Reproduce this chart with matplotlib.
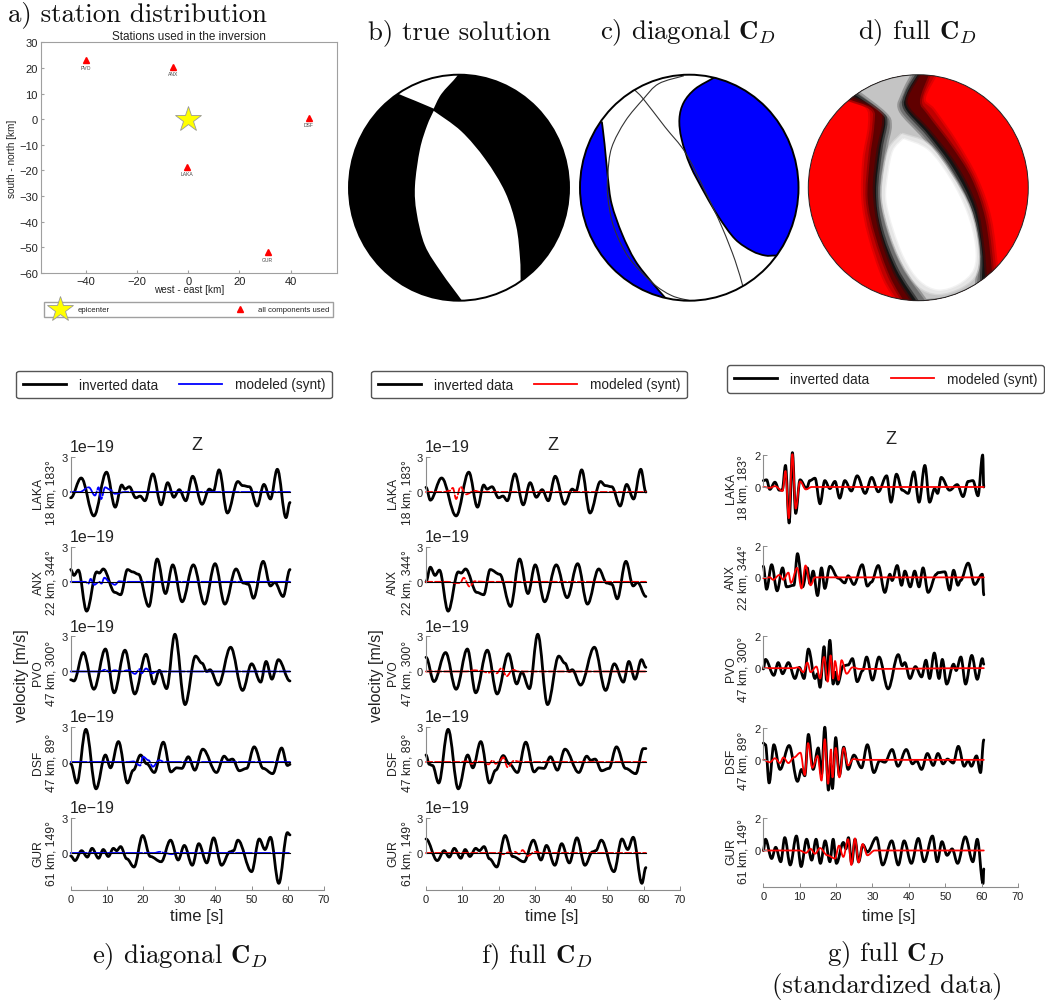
import matplotlib
matplotlib.use('Agg')
import matplotlib.pyplot as plt
from matplotlib.lines import Line2D
from matplotlib.patches import Circle, PathPatch
from matplotlib.path import Path

plt.rcParams['font.family'] = ['Liberation Sans', 'DejaVu Sans']
plt.rcParams['mathtext.fontset'] = 'cm'

W, H = 1045, 1003
GRAY = '#8c8c8c'
TXT = '#222222'

#Station map
map_names = ['PVO', 'ANX', 'LAKA', 'DSF', 'GUR']
map_x = [-40, -5.8, -0.7, 47, 31]
map_y = [23, 20.5, -18.5, 0.5, -52]
epi_x = [0]
epi_y = [0]
map_xticks = [-40, -20, 0, 20, 40]
map_yticks = [-60, -50, -40, -30, -20, -10, 0, 10, 20, 30]

station_names = ['LAKA', 'ANX', 'PVO', 'DSF', 'GUR']
station_info = ['18 km, 183°', '22 km, 344°', '47 km, 300°', '47 km, 89°', '61 km, 149°']
time_ticks = [0, 10, 20, 30, 40, 50, 60, 70]

#Panel e, inverted data
e_laka_t = [0, 2.9, 6.4, 9.9, 12.3, 14.1, 15, 16.2, 18, 19.2, 20.5, 22.7, 25, 26.8, 28.5, 30, 31.8, 33.7, 36.3, 38.3, 39.4, 41, 43.3, 46.2, 47.5, 49.4, 51.5, 53.4, 55.2, 57.1, 59.5, 60.6]
e_laka_v = [-0.5, 1.2, -2.05, 1.7, -1.3, 0.6, 0.25, 0.45, -0.5, -0.35, -0.75, 1.55, -1.1, 0.8, -0.45, 0.2, -0.75, 1.35, -1.05, 0.25, 0.05, 1.9, -1.8, 0.9, 0.55, 0.45, -1.2, 0.65, -0.6, 1.95, -2.2, -0.9]
e_anx_t = [0, 0.9, 2.1, 4.4, 7.2, 7.9, 9, 12.2, 13.8, 15.7, 17.1, 18.7, 21.6, 23.9, 26.2, 28.2, 30.8, 33.9, 37, 39.9, 42.6, 45.7, 47.7, 49.1, 50.5, 53.2, 55.2, 56.4, 58.7, 60.6]
e_anx_v = [1.05, 0.55, 1.0, -2.5, 0.85, 0.75, 1.1, -0.9, -1.1, 1.05, 0.85, 0.65, -2.1, 1.95, -1, 1.45, -1.7, 1.45, -1.9, 1.55, -1.9, 1.1, -0.1, -0.2, -1.4, 1.75, -0.35, -0.05, -1.25, 1.05]
e_pvo_t = [0, 0.9, 3.5, 6.4, 9.6, 12, 15, 17.7, 20.8, 23, 24.5, 26.5, 28.8, 31.6, 34.5, 36.3, 37.6, 38.5, 40.8, 44.2, 47.5, 50, 52.5, 54, 55.6, 57.4, 60.6]
e_pvo_v = [-0.7, -0.8, 1.6, -1.5, 1.9, -1.8, 1.8, -1.9, 1.45, -1.05, 0.1, -1.45, 3.15, -2.8, 1.3, 0.7, 0, 0.15, -1.15, 2.05, -1.6, 0.65, -0.9, 0.85, -0.65, 1.0, -0.8]
e_dsf_t = [0, 1.7, 4.2, 7, 9.6, 11, 13.2, 15.7, 17.3, 19.3, 21, 23.1, 25.6, 27.7, 29.3, 30.7, 32.5, 34.3, 36.5, 40.3, 42.4, 43.6, 44.7, 46.6, 48.6, 50.7, 53.2, 55.8, 58.3, 59.9, 60.6]
e_dsf_v = [-0.15, -1.8, 2.8, -2.3, 0.6, -0.5, 1.75, -1.8, -0.7, 0.6, -0.15, -0.9, 1.7, -0.85, -0.5, -0.55, 0.45, -0.7, 1.1, -0.9, 0.5, 0.15, 0.25, -0.75, -0.55, 1.3, -0.55, -1, 1.2, -0.3, -0.2]
e_gur_t = [0, 1.2, 3, 4.6, 5.9, 7.7, 9, 10.4, 11.8, 12.7, 13.8, 15.5, 17.5, 19.9, 22, 25, 27.6, 29.7, 31.4, 33.6, 35.4, 37.6, 39.5, 41.7, 44, 45, 46.2, 50, 52.1, 53.7, 55.2, 57.5, 59.9, 60.6]
e_gur_v = [-0.25, -0.65, 0.2, -0.35, 0.4, -0.45, 0.3, -0.3, 0.4, 0.2, 0.55, -0.5, -1.2, 1.5, -0.3, -0.75, 1.1, -0.6, 0.65, -1.05, 0.8, -0.85, 1.3, -1.05, 0.1, 0.2, 1.1, -1.6, 1.2, 0.3, 1.35, -2.6, 1.75, 1.55]

#Panel e, modeled
em_laka_t = [0, 2.5, 5, 6.7, 7.7, 8.4, 9.5, 10.9, 12.2, 15, 60.6]
em_laka_v = [0, 0, 0.4, -0.3, 0.4, -0.6, 0.4, 0.2, -0.15, 0, 0]
em_anx_t = [0, 4, 4.9, 5.5, 6.5, 7.9, 8.5, 9.3, 10.9, 12.2, 13.4, 15, 60.6]
em_anx_v = [0, 0, -0.15, 0.25, -0.25, 0, -0.15, 0.35, -0.05, -0.25, 0.05, 0, 0]
em_pvo_t = [0, 8, 9.6, 10.7, 12.2, 13.6, 16, 17.8, 19, 19.6, 20.8, 22.4, 23.8, 60.6]
em_pvo_v = [0, 0, 0.15, -0.05, 0.1, 0, 0.1, -0.2, 0.2, -0.15, 0.25, -0.15, 0, 0]
em_dsf_t = [0, 16, 17.3, 19.2, 20, 21.5, 22.7, 24.4, 26, 60.6]
em_dsf_v = [0, 0, 0.05, -0.3, 0.45, 0.15, -0.4, 0.15, 0, 0]
em_gur_t = [0, 23, 24.7, 26, 27.9, 29.3, 60.6]
em_gur_v = [0, 0, 0.1, 0, -0.1, 0, 0]

#Panel f, inverted data
f_laka_t = [0, 1.2, 4.3, 8.3, 11.8, 14.2, 15.9, 16.8, 18.2, 20, 21.2, 22.4, 24.5, 26.8, 28.7, 30.4, 32, 33.7, 35.6, 38.2, 40.3, 41.3, 42.9, 45.2, 48.1, 49.4, 51.2, 53.5, 55.3, 57.2, 59.2, 60.6]
f_laka_v = [0.4, -0.7, 1.2, -2.05, 1.7, -1.3, 0.6, 0.25, 0.45, -0.5, -0.35, -0.75, 1.55, -1.1, 0.8, -0.45, 0.2, -0.75, 1.35, -1.05, 0.25, 0.05, 1.9, -1.8, 0.9, 0.55, 0.45, -1.2, 0.65, -0.6, 1.95, 0]
f_anx_t = [0, 1.2, 2.5, 3.7, 6.1, 8.9, 9.7, 10.9, 14, 15.9, 17.7, 20.3, 23.3, 25.8, 28.1, 30.1, 32.7, 35.9, 38.9, 41.8, 44.5, 47.6, 49.8, 51.2, 52.7, 55.1, 57.1, 58.3, 60.6]
f_anx_v = [0, 1.25, 0.55, 1, -2.5, 0.85, 0.75, 1.1, -0.9, -1.1, 1.05, 0.65, -2.1, 1.95, -1, 1.45, -1.7, 1.45, -1.35, 1.55, -1.9, 1.1, -0.1, -0.2, -1.45, 1.75, -0.35, -0.05, -1.25]
f_pvo_t = [0, 2.2, 5.4, 8.3, 11.4, 13.7, 16.9, 19.6, 22.7, 25, 26.4, 28.5, 30.8, 33.5, 36.6, 38.3, 39.5, 40.3, 42.6, 46.4, 49.5, 51.9, 54.4, 55.9, 57.6, 59.4, 60.6]
f_pvo_v = [1.2, -0.85, 1.6, -1.5, 1.9, -1.8, 1.8, -1.9, 1.5, -1.05, -0.05, -1.45, 3.15, -2.8, 1.3, 0.7, 0, 0.15, -1.15, 2.05, -1.6, 0.65, -0.9, 0.85, -0.65, 1.0, 0.35]
f_dsf_t = [0, 0.9, 1.8, 3.5, 6.1, 8.9, 11.5, 12.9, 15.1, 17.5, 19.2, 21.3, 22.9, 25.2, 27.5, 29.8, 31.1, 32.5, 34.3, 36.2, 38.3, 42.1, 44.3, 45.4, 46.6, 48.4, 50.4, 52.5, 55, 57.8, 59.9, 60.6]
f_dsf_v = [0.6, -0.2, -0.3, -1.8, 2.8, -2.3, 0.6, -0.5, 1.75, -1.8, -0.7, 0.55, -0.15, -0.9, 1.7, -0.85, -0.5, -0.55, 0.45, -0.7, 1.1, -0.9, 0.5, 0.15, 0.25, -0.75, -0.55, 1.3, -0.55, -1, 1.15, 1.15]
f_gur_t = [0, 3.1, 5, 6.4, 7.8, 9.6, 10.8, 12.1, 13.7, 14.7, 16, 17.5, 19.5, 21.8, 23.9, 27, 29.6, 31.7, 33.2, 35.5, 37.4, 39.5, 41.6, 43.8, 45.9, 46.8, 48.3, 51.8, 54, 55.6, 57.1, 59.5, 60.6]
f_gur_v = [1.2, -0.65, 0.2, -0.35, 0.4, -0.45, 0.3, -0.3, 0.4, 0.2, 0.55, -0.5, -1.2, 1.5, -0.3, -0.75, 1.1, -0.6, 0.65, -1.05, 0.8, -0.85, 1.3, -1.05, 0.1, 0.2, 1.1, -1.6, 1.2, 0.3, 1.35, -2.6, -1.25]

#Panel f, modeled
fm_laka_t = [0, 5, 6.5, 7.4, 8.3, 9.5, 11, 13.4, 15, 60.6]
fm_laka_v = [0, 0, 0.1, 0.35, -0.6, 0.45, -0.2, 0.1, 0, 0]
fm_anx_t = [0, 6, 8.3, 9.4, 10.4, 12, 13.4, 16, 60.6]
fm_anx_v = [0, 0, -0.1, -0.1, 0.35, -0.4, 0.05, 0, 0]
fm_pvo_t = [0, 11, 13.5, 15, 17.2, 18.5, 19.5, 20.8, 22.2, 23.9, 25.4, 60.6]
fm_pvo_v = [0, 0, 0.1, 0.05, -0.1, 0.05, -0.15, 0.3, -0.4, 0.15, 0, 0]
fm_dsf_t = [0, 9.5, 11.2, 12.6, 13.5, 15.7, 17.2, 18.4, 19.2, 20.2, 21.3, 22.5, 24.2, 26.4, 60.6]
fm_dsf_v = [0, 0, 0.05, -0.15, 0.05, 0, -0.2, 0.15, -0.15, 0.05, 0.4, -0.45, 0.1, 0, 0]
fm_gur_t = [0, 20.4, 21.3, 22.7, 23.6, 24.5, 25.7, 26.6, 28, 30, 31.9, 60.6]
fm_gur_v = [0, 0, -0.1, 0.05, -0.05, 0.1, -0.1, 0.25, -0.25, 0.1, 0, 0]

#Panel g, inverted data
g_laka_t = [0, 0.9, 1.8, 3.2, 4.4, 5.2, 6.1, 7.1, 8, 8.9, 10.1, 11.9, 12.8, 14.2, 15.6, 16.9, 18.3, 19.7, 21, 22.4, 24.2, 25.8, 28, 29.8, 31.6, 33.9, 35.1, 36.6, 38.2, 39.8, 41.4, 42.8, 44.4, 45.7, 47.1, 47.9, 48.9, 51.2, 53.3, 54.9, 56.3, 57.6, 59, 60.3, 60.6]
g_laka_v = [0.4, 0.45, -0.15, 0.3, -0.2, -0.2, 1.35, -2.25, 2.15, -1.65, 0.45, -0.1, 0.4, 0.55, -1.05, 0.4, -0.1, 0.35, -0.7, 0.4, -0.25, 0.7, -0.4, 0.6, -0.3, 0.7, -0.95, 0.8, -0.2, -0.4, 0.95, -0.95, 1.35, -0.95, -0.1, -0.4, 0.6, -0.2, 0.15, -0.6, 0.35, 0.4, -0.55, 2, 0]
g_anx_t = [0, 0.9, 2.3, 3.8, 5.3, 6.4, 8.4, 9.4, 10.8, 12.1, 12.8, 13.7, 14.9, 16, 16.9, 18.3, 20.6, 22.4, 23.3, 24.9, 27.2, 28.6, 29.7, 31.6, 33.4, 34.8, 35.4, 36.8, 38, 38.9, 40.4, 41.6, 42.8, 43.9, 45.3, 47.6, 48, 49.9, 51.2, 52.3, 53.5, 54.2, 56.3, 58.1, 60.2, 60.6]
g_anx_v = [0.7, -0.75, 0.8, -0.85, 0.6, -0.6, -0.5, 1.5, -0.6, 0.6, -0.4, 0.4, -1.15, 0.6, -0.7, 0.7, -0.05, -0.35, 0.1, -0.45, 0.8, -0.55, -0.3, 0.75, -0.95, 0.2, -0.2, 0.75, -0.5, 0.4, -0.6, 0.4, -0.6, 0.6, -0.95, 0.2, 0.3, 0.35, -0.8, 0.45, -0.5, -0.2, 0.9, -0.45, 0.2, -1.1]
g_pvo_t = [0, 0.6, 2.9, 4.1, 5.3, 6.9, 8.7, 9.9, 11.2, 12.4, 14.2, 14.9, 15.6, 16.7, 17.4, 18.3, 19.2, 19.7, 20.4, 22, 23.3, 24.5, 25.8, 27.3, 28.4, 30, 31.8, 34.3, 37.1, 38.2, 38.9, 40.3, 41.8, 43.5, 44.7, 45.7, 47, 48.3, 49.2, 50.4, 52.3, 53, 54.3, 55.6, 57.3, 58.8, 60.2, 60.6]
g_pvo_v = [-0.05, 0.55, -0.45, 0.35, -0.35, 0.35, -0.65, 0.05, -0.65, 1.2, -0.65, -0.35, -1.2, 1.35, -0.75, 1.75, -1, -0.25, -1, 0.15, 0.2, 0.6, -0.85, -0.15, 0.7, -0.75, 0.7, -1.3, 0.85, 0.15, 0.35, -0.65, 0.1, -0.55, 0.5, -0.65, 0.95, -0.65, 0.55, -1, 0.25, -0.15, 0.7, -1, 0.8, -0.7, 0.6, 0.25]
g_dsf_t = [0, 0.6, 1.6, 2.9, 4.6, 7.1, 9.4, 10.5, 11.4, 12.4, 13.7, 15.1, 16, 16.9, 17.9, 18.5, 19, 19.9, 20.9, 22.1, 23.3, 24.9, 27, 28.6, 30.4, 32, 33.4, 35.4, 37, 39.3, 41, 42.1, 43.5, 45.1, 46.7, 48, 49.4, 50.6, 52.2, 53.6, 55.2, 56.3, 57.2, 58.6, 59.7, 60.6]
g_dsf_v = [1.05, 0.95, -1.45, 0.95, -0.6, 0.9, -1.35, -0.6, -1, 1.6, -0.6, 0.75, -0.9, 2.05, -1.9, -0.25, -1.8, 1.4, -1, 0.8, -0.6, 0.3, -0.5, 0.95, -0.8, -0.05, -0.15, 0.65, -0.4, 0.65, -0.25, -0.05, -0.6, 0.4, -0.35, 0.4, -0.25, 0.05, -0.2, 0.85, -0.4, -0.05, -0.4, 0.25, -0.8, 1.25]
g_gur_t = [0, 0.6, 2.3, 3.4, 4.8, 5.9, 7.4, 9.1, 10.4, 11.9, 13.3, 14.5, 15.7, 17, 18.3, 19.2, 20.1, 22, 22.7, 23.4, 24.3, 25.2, 26.2, 27.4, 28.6, 31.1, 32.8, 35.3, 37.1, 38.7, 40.7, 42.6, 44.2, 46.5, 47.8, 49.1, 50.5, 51.9, 53.4, 55.5, 57.6, 58.8, 60.4, 60.6]
g_gur_v = [0, 0.7, -0.5, 0.2, -0.7, 0.8, -0.9, 0.9, -1, 0.7, -0.6, 0.7, -0.8, 0.6, -0.7, 0.7, -0.8, 0.5, 0.1, 0.8, -0.8, 0.7, -0.7, 0.35, -0.1, 0.8, -0.9, 0.6, -0.9, 0.6, -0.8, 0.75, -0.7, 0.9, -0.7, 0.55, -0.3, 0.1, -0.8, 0.85, -0.7, 0.7, -2.05, -1.15]

#Panel g, modeled
gm_laka_t = [0, 1.8, 3.2, 5.3, 6.1, 7, 8, 8.9, 10.1, 11.7, 13.3, 60.6]
gm_laka_v = [0, -0.05, 0.05, -0.25, 1, -1.95, 2.05, -1.35, 0.35, -0.15, 0, 0]
gm_anx_t = [0, 1.8, 2.7, 4.4, 5.5, 6.9, 7.6, 9.3, 10.5, 11.6, 13, 14.2, 60.6]
gm_anx_v = [-0.05, 0, -0.15, 0.15, -0.15, 0.3, -0.35, 0.6, -0.7, 0.75, -0.5, 0, 0]
gm_pvo_t = [0, 8.2, 9.6, 11, 12.1, 13, 14.6, 15.6, 16.7, 17.7, 18.5, 19.2, 19.7, 20.7, 21.5, 22.9, 24.5, 26.5, 60.6]
gm_pvo_v = [0, 0, 0.05, -0.25, 0.35, -0.25, 0.1, -0.65, 0.7, -0.85, 0.8, -0.65, 0.45, -0.75, 0.5, -0.35, 0.05, -0.05, 0]
gm_dsf_t = [0, 1.8, 3.2, 4.6, 5.5, 6.9, 8.4, 10.2, 11.4, 12.3, 13.5, 14.9, 16, 16.9, 17.8, 18.6, 19, 19.9, 20.9, 22.1, 23.3, 24.7, 26.5, 60.6]
gm_dsf_v = [0, -0.15, 0.1, -0.2, 0.15, -0.2, 0.15, 0.45, -0.95, 1.05, -0.5, 0.25, -1.3, 1.3, -1.5, 0.65, -1.1, 0.75, -1.1, 0.75, -0.35, 0.05, 0, 0]
gm_gur_t = [0, 10, 11.7, 13, 14.2, 15.6, 17.6, 19.7, 20.8, 22, 23.3, 24.2, 25.2, 26.2, 27.3, 28.6, 30.6, 60.6]
gm_gur_v = [0, 0, -0.15, 0.1, -0.2, 0.15, -0.3, -0.5, 0.3, -0.4, 0.7, -0.9, 0.75, -0.75, 0.4, -0.3, 0, 0]

#Beach ball outlines in unit circle coordinates, ends run past the rim
b_top_right = [(-.62, .87), (-.55, .83), (-.40, .77), (-.23, .70)]
b_top_left = [(-.23, .70), (-.16, .83), (-.02, .985), (.03, 1.08)]
b_big_right = [(-.23, .68), (.02, .50), (.24, .25), (.42, -.04), (.52, -.34), (.555, -.63), (.56, -.81), (.565, -1.05)]
b_big_left = [(.08, -1.08), (.02, -.99), (-.16, -.75), (-.31, -.51), (-.385, -.22), (-.40, .02), (-.355, .34), (-.29, .55), (-.23, .68)]

c_right = [(.30, 1.02), (.22, .97), (.055, .875), (-.05, .755), (-.09, .61), (-.07, .43), (.01, .195), (.145, -.055), (.27, -.26), (.42, -.455), (.575, -.56), (.695, -.60), (.80, -.60), (1.05, -.60)]
c_left = [(-.80, .585), (-.775, .385), (-.745, .09), (-.71, -.145), (-.615, -.41), (-.495, -.645), (-.34, -.84), (-.215, -.98), (-.15, -1.06)]
c_arc1 = [(-.05, .99), (-.28, .92), (-.42, .785), (-.585, .59), (-.71, .355), (-.745, .12), (-.745, -.085), (-.69, -.35), (-.555, -.615), (-.34, -.84), (-.16, -.955), (.01, -1)]
c_arc2 = [(-.5, .865), (-.42, .785), (-.22, .535), (-.035, .31), (.145, -.03), (.30, -.35), (.42, -.645), (.49, -.87)]

d_a0_left = [(-.85, .92), (-.72, .82), (-.47, .72), (-.44, .55), (-.49, .25), (-.50, -.10), (-.44, -.425), (-.31, -.80), (-.16, -1.04)]
d_a0_right = [(.71, -.95), (.71, -.75), (.65, -.28), (.525, .08), (.34, .40), (.14, .68), (.05, .79), (.17, 1.03)]
d_a1_left = [(-.82, .93), (-.67, .80), (-.42, .70), (-.40, .55), (-.44, .25), (-.46, -.10), (-.39, -.425), (-.26, -.78), (-.11, -1.04)]
d_a1_right = [(.67, -.95), (.67, -.75), (.61, -.28), (.485, .08), (.30, .37), (.09, .64), (.015, .77), (.105, 1.02)]
d_b_left = [(-.75, .92), (-.61, .82), (-.35, .70), (-.31, .58), (-.365, .31), (-.395, -.04), (-.34, -.395), (-.21, -.75), (-.03, -1.03)]
d_b_right = [(.62, -.95), (.605, -.78), (.58, -.51), (.515, -.16), (.335, .195), (.09, .505), (-.09, .695), (-.105, .815), (.015, 1.02)]
d_c_left = [(-.7, .93), (-.575, .845), (-.335, .68), (-.28, .58), (-.325, .34), (-.365, -.04), (-.32, -.365), (-.18, -.72), (.015, -1.015)]
d_c_right = [(.58, -.95), (.56, -.84), (.56, -.57), (.485, -.19), (.30, .165), (.075, .46), (-.135, .695), (-.12, .845), (-.015, 1.02)]
d_d_left = [(-.65, .93), (-.545, .86), (-.29, .665), (-.24, .55), (-.28, .34), (-.33, -.04), (-.27, -.365), (-.135, -.69), (.075, -.985)]
d_d_right = [(.53, -.95), (.515, -.84), (.54, -.60), (.455, -.19), (.27, .135), (.045, .43), (-.18, .68), (-.15, .845), (-.06, 1.02)]
d_e = [(-.15, .475), (.09, .385), (.30, .12), (.47, -.19), (.545, -.51), (.53, -.75), (.395, -.88), (.18, -.94), (0, -.87), (-.15, -.66), (-.26, -.395), (-.33, -.10), (-.31, .165), (-.26, .355), (-.15, .475)]
d_f = [(-.135, .43), (.09, .33), (.29, .075), (.44, -.22), (.515, -.51), (.50, -.72), (.365, -.85), (.18, -.90), (.015, -.82), (-.12, -.63), (-.225, -.365), (-.29, -.10), (-.27, .135), (-.225, .33), (-.135, .43)]


def px_axes(l, t, r, b):
    return fig.add_axes([l/W, 1-b/H, (r-l)/W, (b-t)/H])


def ftext(x, y, s, **kw):
    return fig.text(x/W, 1-y/H, s, **kw)


def wave(ax, t, v, **kw):
    #curve through the read points, flat at each one since they are peaks and troughs
    verts = [(t[0], v[0])]
    codes = [Path.MOVETO]
    for i in range(1, len(t)):
        dt = 0.364*(t[i]-t[i-1])
        verts += [(t[i-1]+dt, v[i-1]), (t[i]-dt, v[i]), (t[i], v[i])]
        codes += [Path.CURVE4]*3
    ax.add_patch(PathPatch(Path(verts, codes), fill=False, capstyle='round', joinstyle='round', clip_on=False, **kw))


def edge_path(edges):
    #smooth curve through each edge, straight joins between edges
    verts, codes = [], []
    for e in edges:
        verts.append(e[0])
        codes.append(Path.LINETO if verts[:-1] else Path.MOVETO)
        for i in range(len(e)-1):
            p0, p1, p2, p3 = e[max(i-1, 0)], e[i], e[i+1], e[min(i+2, len(e)-1)]
            verts.append((p1[0]+(p2[0]-p0[0])/6, p1[1]+(p2[1]-p0[1])/6))
            verts.append((p2[0]-(p3[0]-p1[0])/6, p2[1]-(p3[1]-p1[1])/6))
            verts.append(p2)
            codes += [Path.CURVE4]*3
    return Path(verts, codes)


def ball_axes(l, t, r, b, face):
    ax = px_axes(l, t, r, b)
    ax.set_xlim(-1, 1)
    ax.set_ylim(-1, 1)
    ax.axis('off')
    rim = Circle((0, 0), 1, facecolor=face, edgecolor='none')
    ax.add_patch(rim)
    return ax, rim


def region(ax, rim, edges, color, lw=0, ec='none'):
    p = PathPatch(edge_path(edges), facecolor=color, edgecolor=ec, lw=lw)
    ax.add_patch(p)
    p.set_clip_path(rim)


def outline(ax):
    ax.add_patch(Circle((0, 0), 1, fill=False, edgecolor='black', lw=1.4, clip_on=False))


def wave_panel(x0, x1, tops, zeros, bottom, top_val, traces, models, color, dash, name_x, info_x, off=True):
    px_unit = (zeros[0]-tops[0])/top_val
    low = -(bottom-zeros[4])/px_unit
    for i in range(5):
        b = zeros[i]+(bottom-zeros[4])
        ax = px_axes(x0, tops[i], x1, b)
        ax.set_xlim(0, 70)
        ax.set_ylim(low, top_val)
        ax.patch.set_alpha(0)
        for s in ['top', 'right']:
            ax.spines[s].set_visible(False)
        ax.spines['left'].set_bounds(0, top_val)
        ax.spines['left'].set_color(GRAY)
        ax.set_yticks([0, top_val])
        ax.tick_params(axis='y', direction='in', length=3, pad=2, labelsize=8, color=GRAY, labelcolor=TXT, width=0.7)
        if i == 4:
            ax.spines['bottom'].set_color(GRAY)
            ax.set_xticks(time_ticks)
            ax.tick_params(axis='x', direction='in', length=3, pad=3, labelsize=8, color=GRAY, labelcolor=TXT, width=0.7)
        else:
            ax.spines['bottom'].set_visible(False)
            ax.set_xticks([])
        wave(ax, traces[i][0], traces[i][1], edgecolor='black', lw=2.0)
        if dash:
            ax.plot([0, 60.6], [0, 0], color='black', lw=0.8)
            wave(ax, models[i][0], models[i][1], edgecolor=color, lw=1.3, linestyle=(0, dash))
        else:
            wave(ax, models[i][0], models[i][1], edgecolor=color, lw=1.3)
        ftext(name_x, zeros[i], station_names[i], rotation=90, ha='center', va='center', fontsize=8.7, color=TXT)
        ftext(info_x, zeros[i], station_info[i], rotation=90, ha='center', va='center', fontsize=8.7, color=TXT)
        if off:
            ftext(x0-1, tops[i]-10, '1e\u221219', ha='left', va='center', fontsize=11.5, color=TXT)


def wave_legend(l, t, r, b, color):
    handles = [Line2D([], [], color='black', lw=2.0), Line2D([], [], color=color, lw=1.3)]
    fig.legend(handles, ['inverted data', 'modeled (synt)'], ncol=2, loc='center', mode='expand',
               bbox_to_anchor=(l/W, 1-b/H, (r-l)/W, (b-t)/H), borderaxespad=0, fontsize=9.8,
               handlelength=3.2, labelcolor=TXT, edgecolor='#555555', framealpha=1, fancybox=True,
               borderpad=0.5, columnspacing=2.0, handletextpad=0.9)


fig = plt.figure(figsize=(W/100, H/100), dpi=100)

#a) station map
ax = px_axes(40.7, 43.3, 336.7, 274)
ax.set_xlim(-57.7, 58)
ax.set_ylim(-60, 30)
for s in ax.spines.values():
    s.set_color('#a0a0a0')
ax.set_xticks(map_xticks)
ax.set_yticks(map_yticks)
ax.tick_params(direction='in', length=2, labelsize=8, colors=TXT, pad=2)
ax.tick_params(color='#a0a0a0')
ax.set_xlabel('west - east [km]', fontsize=7.2, color=TXT, labelpad=-1)
ax.set_ylabel('south - north [km]', fontsize=7.2, color=TXT)
ax.yaxis.set_label_coords((17-40.7)/296, 0.5)
ax.set_title('Stations used in the inversion', fontsize=8.5, color=TXT, pad=1.5)
ax.plot(epi_x, epi_y, marker='*', ms=19, mfc='yellow', mec='#999999', mew=0.6, ls='none')
ax.plot(map_x, map_y, marker='^', ms=4, mfc='red', mec='red', ls='none')
for n, x, y in zip(map_names, map_x, map_y):
    ax.annotate(n, (x, y), xytext=(0, -5), textcoords='offset points', ha='center', va='center', fontsize=3.6, color='#444444')
h1 = Line2D([], [], marker='*', ms=19, mfc='yellow', mec='#999999', mew=0.6, ls='none')
h2 = Line2D([], [], marker='^', ms=4, mfc='red', mec='red', ls='none')
fig.legend([h1, h2], ['epicenter', 'all components used'], ncol=2, loc='center', mode='expand',
           bbox_to_anchor=(44/W, 1-318/H, 289/W, 15/H), borderaxespad=0, fontsize=5.6, labelcolor=TXT,
           edgecolor='#a0a0a0', fancybox=False, framealpha=1, borderpad=0.5, handletextpad=0.8, handlelength=3)

#b) true solution
ax, rim = ball_axes(349, 75.7, 569, 301.7, 'black')
region(ax, rim, [b_top_right, b_top_left, [(-.3, 1.1), (-.7, 1.0)]], 'white')
region(ax, rim, [b_big_right, [(.3, -1.1)], b_big_left], 'white')
outline(ax)

#c) diagonal
ax, rim = ball_axes(580, 75.7, 798.5, 301.7, 'white')
region(ax, rim, [c_right, [(1.2, 0), (1.1, 1.1)]], '#0000ff', 1.3, 'black')
region(ax, rim, [c_left, [(-1.2, -1.2), (-1.2, .6)]], '#0000ff', 1.3, 'black')
ax.add_patch(PathPatch(edge_path([c_arc1]), fill=False, edgecolor='#333333', lw=0.8))
ax.add_patch(PathPatch(edge_path([c_arc2]), fill=False, edgecolor='#333333', lw=0.8))
outline(ax)

#d) full, soft edges stand in for the bundle of overlapping solutions
ax, rim = ball_axes(808.3, 75.7, 1028.3, 301.7, '#ff0000')
layers = [(d_a0_left, d_a0_right, '#c00000'), (d_a1_left, d_a1_right, '#600000'), (d_b_left, d_b_right, '#141414'),
          (d_c_left, d_c_right, '#707070'), (d_d_left, d_d_right, '#c4c4c4')]
for left, right, col in layers:
    region(ax, rim, [left, right], col, 3, matplotlib.colors.to_rgba(col, 0.45))
region(ax, rim, [d_e], '#e6e6e6', 2, matplotlib.colors.to_rgba('#e6e6e6', 0.5))
region(ax, rim, [d_f], 'white', 2, matplotlib.colors.to_rgba('white', 0.5))
ax.add_patch(Circle((0, 0), 1, fill=False, edgecolor='#222222', lw=0.7, clip_on=False))

#waveforms
e_tr = [(e_laka_t, e_laka_v), (e_anx_t, e_anx_v), (e_pvo_t, e_pvo_v), (e_dsf_t, e_dsf_v), (e_gur_t, e_gur_v)]
e_md = [(em_laka_t, em_laka_v), (em_anx_t, em_anx_v), (em_pvo_t, em_pvo_v), (em_dsf_t, em_dsf_v), (em_gur_t, em_gur_v)]
f_tr = [(f_laka_t, f_laka_v), (f_anx_t, f_anx_v), (f_pvo_t, f_pvo_v), (f_dsf_t, f_dsf_v), (f_gur_t, f_gur_v)]
f_md = [(fm_laka_t, fm_laka_v), (fm_anx_t, fm_anx_v), (fm_pvo_t, fm_pvo_v), (fm_dsf_t, fm_dsf_v), (fm_gur_t, fm_gur_v)]
g_tr = [(g_laka_t, g_laka_v), (g_anx_t, g_anx_v), (g_pvo_t, g_pvo_v), (g_dsf_t, g_dsf_v), (g_gur_t, g_gur_v)]
g_md = [(gm_laka_t, gm_laka_v), (gm_anx_t, gm_anx_v), (gm_pvo_t, gm_pvo_v), (gm_dsf_t, gm_dsf_v), (gm_gur_t, gm_gur_v)]

tops_ef = [458, 547.7, 637, 728, 819]
zeros_ef = [493, 583, 673, 763, 854]
wave_panel(70.7, 324, tops_ef, zeros_ef, 891, 3, e_tr, e_md, '#0000ff', (9, 1.2), 38.5, 52)
wave_panel(426, 680, tops_ef, zeros_ef, 891, 3, f_tr, f_md, '#ff0000', (3.5, 1.5), 393, 407)
wave_panel(763.3, 1018, [456, 546.7, 637.3, 729, 819.3], [488, 578, 669, 760.7, 851.7], 888, 2, g_tr, g_md, '#ff0000', None, 731, 744, off=False)

wave_legend(16, 373, 332, 398, '#0000ff')
wave_legend(371, 373, 687, 398, '#ff0000')
wave_legend(727, 368, 1044, 392, '#ff0000')

#axis texts around the waveforms
for x, y in [(197, 445), (552.7, 445), (890.7, 440)]:
    ftext(x, y, 'Z', ha='center', va='center', fontsize=13, color=TXT)
for x in [22, 377]:
    ftext(x, 676, 'velocity [m/s]', rotation=90, ha='center', va='center', fontsize=11.5, color=TXT)
for x in [197, 552, 889]:
    ftext(x, 917, 'time [s]', ha='center', va='center', fontsize=12, color=TXT)

#panel captions
cap = dict(ha='center', va='center', fontsize=19.3, family='cmr10', color='#111111')
ftext(138, 15, 'a) station distribution', **cap)
ftext(459, 33, 'b) true solution', **cap)
ftext(688, 33, r'c) diagonal $\mathbf{C}_D$', **cap)
ftext(917, 33, r'd) full $\mathbf{C}_D$', **cap)
ftext(180, 957, r'e) diagonal $\mathbf{C}_D$', **cap)
ftext(537, 957, r'f) full $\mathbf{C}_D$', **cap)
ftext(886, 955, r'g) full $\mathbf{C}_D$', **cap)
ftext(887, 987, '(standardized data)', **cap)

fig.savefig('out.png', dpi=100)
